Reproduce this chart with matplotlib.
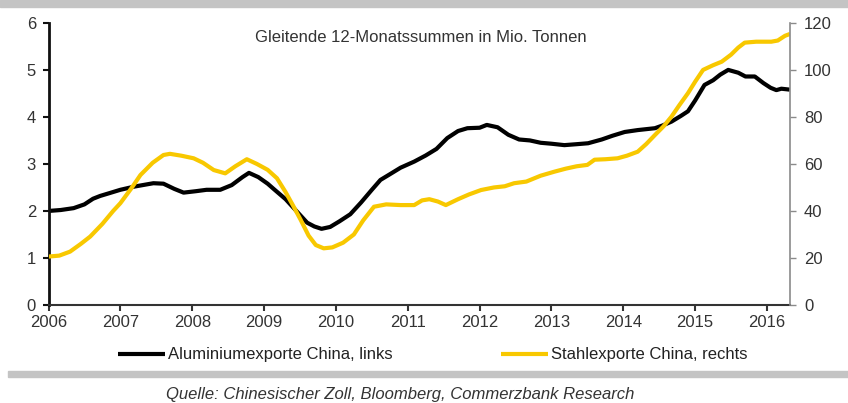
import matplotlib
matplotlib.use("Agg")
import matplotlib.pyplot as plt
from matplotlib.patches import Rectangle

plt.rcParams['font.family'] = ['Liberation Sans', 'DejaVu Sans']

# Aluminiumexporte China (Mio. t, left axis)
alu_t = [2006.00, 2006.17, 2006.35, 2006.50, 2006.62, 2006.72, 2006.85, 2007.00, 2007.20, 2007.46,
         2007.60, 2007.75, 2007.88, 2008.05, 2008.20, 2008.39, 2008.55, 2008.70, 2008.79, 2008.92,
         2009.05, 2009.14, 2009.30, 2009.48, 2009.60, 2009.70, 2009.80, 2009.92, 2010.05, 2010.20,
         2010.35, 2010.50, 2010.62, 2010.75, 2010.90, 2011.09, 2011.25, 2011.40, 2011.55, 2011.70,
         2011.83, 2012.00, 2012.10, 2012.25, 2012.40, 2012.55, 2012.70, 2012.85, 2013.00, 2013.18,
         2013.35, 2013.51, 2013.70, 2013.85, 2014.02, 2014.20, 2014.44, 2014.55, 2014.67, 2014.80,
         2014.90, 2015.00, 2015.13, 2015.25, 2015.35, 2015.46, 2015.60, 2015.70, 2015.83, 2015.95,
         2016.05, 2016.13, 2016.20, 2016.32]
alu_v = [2.00, 2.02, 2.06, 2.14, 2.26, 2.32, 2.38, 2.45, 2.52, 2.59,
         2.58, 2.47, 2.39, 2.42, 2.45, 2.45, 2.55, 2.72, 2.81, 2.72,
         2.58, 2.46, 2.25, 1.95, 1.75, 1.67, 1.62, 1.66, 1.78, 1.93,
         2.18, 2.45, 2.66, 2.78, 2.92, 3.05, 3.18, 3.32, 3.55, 3.70,
         3.76, 3.77, 3.83, 3.78, 3.62, 3.52, 3.50, 3.45, 3.43, 3.40,
         3.42, 3.44, 3.52, 3.60, 3.68, 3.72, 3.76, 3.82, 3.90, 4.02,
         4.12, 4.35, 4.68, 4.78, 4.90, 5.00, 4.94, 4.86, 4.86, 4.72,
         4.62, 4.57, 4.60, 4.58]

# Stahlexporte China (Mio. t, right axis)
st_t = [2006.00, 2006.15, 2006.30, 2006.45, 2006.58, 2006.75, 2006.90, 2007.00, 2007.15, 2007.28,
        2007.45, 2007.60, 2007.69, 2007.85, 2008.02, 2008.15, 2008.30, 2008.46, 2008.60, 2008.76,
        2008.90, 2009.05, 2009.18, 2009.30, 2009.40, 2009.51, 2009.62, 2009.72, 2009.83, 2009.95,
        2010.10, 2010.25, 2010.38, 2010.53, 2010.70, 2010.90, 2011.09, 2011.20, 2011.30, 2011.42,
        2011.53, 2011.70, 2011.85, 2012.02, 2012.20, 2012.35, 2012.48, 2012.65, 2012.85, 2013.04,
        2013.20, 2013.35, 2013.50, 2013.60, 2013.75, 2013.92, 2014.05, 2014.20, 2014.32, 2014.44,
        2014.56, 2014.67, 2014.78, 2014.90, 2015.00, 2015.11, 2015.25, 2015.37, 2015.50, 2015.60,
        2015.69, 2015.85, 2016.06, 2016.15, 2016.25, 2016.32]
st_v = [20.6, 21.0, 22.7, 26.0, 29.1, 34.5, 40.0, 43.3, 49.5, 55.3,
        60.5, 63.8, 64.3, 63.5, 62.4, 60.5, 57.4, 56.0, 59.0, 62.0,
        60.0, 57.5, 53.9, 48.0, 42.5, 36.2, 29.5, 25.5, 24.1, 24.5,
        26.5, 30.0, 36.0, 41.8, 42.8, 42.5, 42.5, 44.5, 45.0, 44.0,
        42.5, 45.0, 47.0, 48.9, 50.0, 50.5, 51.8, 52.5, 55.0, 56.7,
        58.0, 59.0, 59.6, 61.8, 62.0, 62.4, 63.5, 65.2, 68.5, 72.3,
        76.0, 80.1, 85.0, 90.1, 95.0, 100.0, 102.0, 103.5, 106.5, 109.5,
        111.6, 112.0, 112.0, 112.5, 114.5, 115.3]

years = list(range(2006, 2017))
left_ticks = [0, 1, 2, 3, 4, 5, 6]
right_ticks = [0, 20, 40, 60, 80, 100, 120]

BLACK = '#000000'
YELLOW = '#F8C800'
FS = 12

fig = plt.figure(figsize=(8.48, 4.03), dpi=100)
ax = fig.add_axes([0.0572, 0.2432, 0.8744, 0.70])
ax2 = ax.twinx()

l1, = ax.plot(alu_t, alu_v, color=BLACK, lw=3.0, solid_capstyle='butt')
l2, = ax2.plot(st_t, st_v, color=YELLOW, lw=3.0, solid_capstyle='butt')

ax.set_xlim(2006, 2016.32)
ax.set_ylim(0, 6)
ax2.set_ylim(0, 120)
ax.set_xticks(years)
ax.set_yticks(left_ticks)
ax2.set_yticks(right_ticks)

for a in (ax, ax2):
    a.spines['top'].set_visible(False)
ax.spines['right'].set_visible(False)
ax2.spines['left'].set_visible(False)
ax2.spines['bottom'].set_visible(False)
ax.spines['left'].set_linewidth(2.0)
ax.spines['left'].set_color('#111111')
ax.spines['bottom'].set_linewidth(1.5)
ax.spines['bottom'].set_color('#333333')
ax2.spines['right'].set_linewidth(1.2)
ax2.spines['right'].set_color('#8a8a8a')

ax.tick_params(axis='y', direction='out', length=4, width=1.5, labelsize=FS,
               colors='#111111', labelcolor='#333333', pad=5)
ax.tick_params(axis='x', direction='out', length=4, width=1.5, labelsize=FS,
               colors='#333333', labelcolor='#333333', pad=3)
ax2.tick_params(axis='y', direction='out', length=4, width=1.0, labelsize=FS,
                colors='#8a8a8a', labelcolor='#333333', pad=6)

ax.text(0.502, 0.947, 'Gleitende 12-Monatssummen in Mio. Tonnen', transform=ax.transAxes,
        ha='center', va='center', fontsize=FS, color='#333333')

fig.legend([l1, l2], ['Aluminiumexporte China, links', 'Stahlexporte China, rechts'],
           loc='center left', bbox_to_anchor=(118 / 848, 1 - 355 / 403), ncol=2,
           frameon=False, fontsize=FS, handlelength=2.8, handletextpad=0.2,
           columnspacing=6.5, borderpad=0, borderaxespad=0,
           labelcolor='#222222')

# gray bands at top and bottom
fig.patches.append(Rectangle((0, 1 - 7 / 403), 1, 7 / 403, transform=fig.transFigure,
                             color='#c4c4c4', zorder=0))
fig.patches.append(Rectangle((8 / 848, 1 - 377 / 403), 1, 6 / 403, transform=fig.transFigure,
                             color='#c4c4c4', zorder=0))

fig.text(400 / 848, 1 - 395 / 403, 'Quelle: Chinesischer Zoll, Bloomberg, Commerzbank Research',
         ha='center', va='center', fontsize=FS, style='italic', color='#333333')

fig.savefig('out.png', dpi=100)
